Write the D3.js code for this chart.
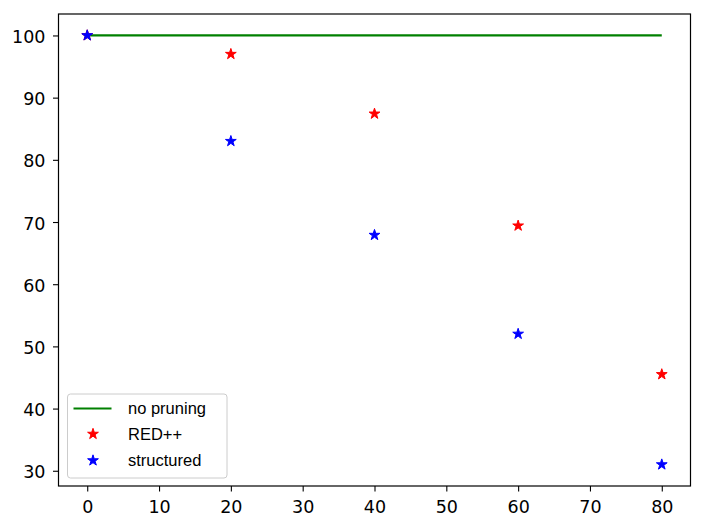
<!DOCTYPE html>
<html><head><meta charset="utf-8">
<script src="https://cdn.jsdelivr.net/npm/d3@7"></script>
<style>body{margin:0;background:#fff}svg{display:block}</style>
</head><body>
<svg id="c" width="705" height="528"></svg>
<script>
const sparsity = [0, 20, 40, 60, 80];
const noPruning = [100, 100, 100, 100, 100];
const redpp = [100, 97, 87.4, 69.4, 45.5];
const structured = [100, 83, 67.9, 52, 31];
const xTicks = [0, 10, 20, 30, 40, 50, 60, 70, 80];
const yTicks = [30, 40, 50, 60, 70, 80, 90, 100];
const legendLabels = ["no pruning", "RED++", "structured"];

const svg = d3.select("#c");
const L = 58.5, R = 690.5, T = 14, B = 486;
const x = d3.scaleLinear().domain([-4, 84]).range([L, R]);
const y = d3.scaleLinear().domain([27.55, 103.45]).range([B, T]);

const tickFont = "DejaVu Sans, sans-serif";
const xa = svg.append("g").attr("transform", `translate(0,${B})`)
  .call(d3.axisBottom(x).tickValues(xTicks).tickSize(5.5).tickPadding(5).tickFormat(d3.format("d")));
const ya = svg.append("g").attr("transform", `translate(${L},0)`)
  .call(d3.axisLeft(y).tickValues(yTicks).tickSize(5.5).tickPadding(7.5).tickFormat(d3.format("d")));
[xa, ya].forEach(a => {
  a.select(".domain").remove();
  a.selectAll(".tick line").attr("stroke", "#000").attr("stroke-width", 1.1);
  a.selectAll(".tick text").attr("fill", "#000").style("font-family", tickFont).style("font-size", "17.5px");
});
xa.selectAll(".tick text").attr("y", 0).attr("dy", 0).attr("transform", "translate(0,27)");
ya.selectAll(".tick text").attr("dy", "0.4em");

// no pruning line
const line = d3.line().x((d, i) => x(sparsity[i])).y(d => y(d));
svg.append("path").datum(noPruning).attr("d", line)
  .attr("fill", "none").attr("stroke", "#008000").attr("stroke-width", 2.2);

const star = d3.symbol().type(d3.symbolStar).size(36);
function stars(vals, color) {
  svg.append("g").selectAll("path").data(vals).join("path")
    .attr("d", star)
    .attr("transform", (d, i) => `translate(${x(sparsity[i])},${y(d)})`)
    .attr("fill", color).attr("stroke", color).attr("stroke-width", 1);
}
stars(redpp, "#ff0000");
stars(structured, "#0000ff");

// frame
svg.append("rect").attr("x", L).attr("y", T).attr("width", R - L).attr("height", B - T)
  .attr("fill", "none").attr("stroke", "#000").attr("stroke-width", 1.2);

// legend
const lg = svg.append("g");
lg.append("rect").attr("x", 67.5).attr("y", 394).attr("width", 159.5).attr("height", 84)
  .attr("rx", 3).attr("fill", "#fff").attr("fill-opacity", 0.8).attr("stroke", "#ccc").attr("stroke-width", 1);
const rowY = [408.5, 434, 460.5];
lg.append("line").attr("x1", 73.5).attr("x2", 111.5).attr("y1", rowY[0]).attr("y2", rowY[0])
  .attr("stroke", "#008000").attr("stroke-width", 2.2);
[["#ff0000", rowY[1]], ["#0000ff", rowY[2]]].forEach(([c, yy]) => {
  lg.append("path").attr("d", star).attr("transform", `translate(93,${yy})`)
    .attr("fill", c).attr("stroke", c).attr("stroke-width", 1);
});
lg.selectAll("text").data(legendLabels).join("text")
  .attr("x", 128).attr("y", (d, i) => rowY[i] + 5.5)
  .style("font-family", "Liberation Sans, Arial, sans-serif").style("font-size", "16.5px")
  .attr("fill", "#000").text(d => d);
</script>
</body></html>
